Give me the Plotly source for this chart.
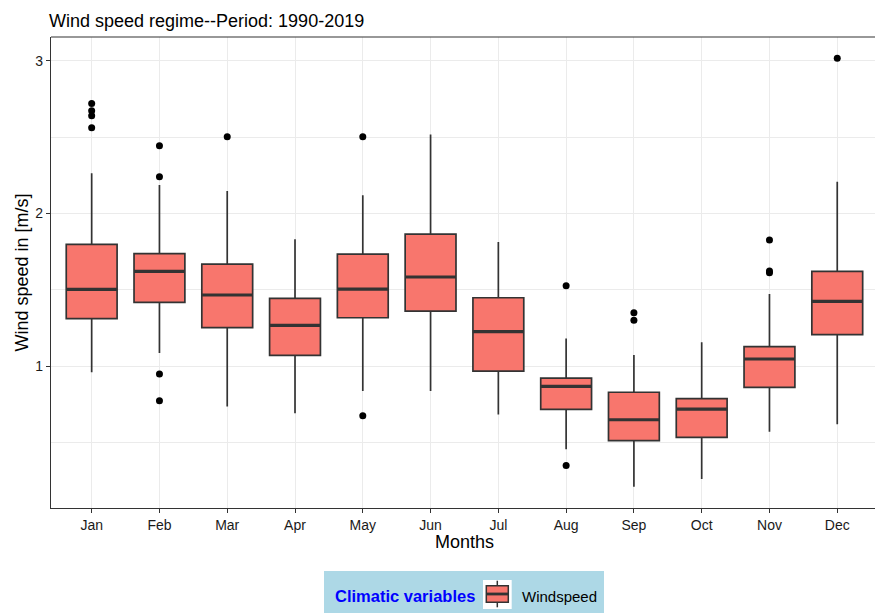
import plotly.graph_objects as go

# ---------------- data ----------------
months = ["Jan", "Feb", "Mar", "Apr", "May", "Jun",
          "Jul", "Aug", "Sep", "Oct", "Nov", "Dec"]
lower_whisker = [0.959, 1.085, 0.734, 0.690, 0.836, 0.836, 0.683, 0.454, 0.210, 0.260, 0.570, 0.618]
q1 = [1.310, 1.417, 1.251, 1.070, 1.316, 1.360, 0.967, 0.716, 0.511, 0.533, 0.860, 1.205]
median = [1.502, 1.620, 1.465, 1.266, 1.504, 1.583, 1.225, 0.867, 0.648, 0.718, 1.046, 1.424]
q3 = [1.797, 1.736, 1.668, 1.443, 1.733, 1.864, 1.447, 0.921, 0.828, 0.786, 1.127, 1.620]
upper_whisker = [2.262, 2.185, 2.146, 1.830, 2.118, 2.517, 1.812, 1.181, 1.072, 1.155, 1.472, 2.207]
outlier_month = ["Jan", "Jan", "Jan", "Jan", "Feb", "Feb", "Feb", "Feb", "Mar", "May", "May",
                 "Aug", "Aug", "Sep", "Sep", "Nov", "Nov", "Nov", "Dec"]
outlier_value = [2.720, 2.672, 2.639, 2.561, 2.443, 2.240, 0.948, 0.773, 2.502, 2.502, 0.675,
                 1.526, 0.349, 1.349, 1.299, 1.825, 1.622, 1.611, 3.015]
y_ticks = [1, 2, 3]
y_minor = [0.5, 1.5, 2.5]

# ---------------- styling ----------------
FILL = "#F8766D"
EDGE = "#333333"
GRID = "#EBEBEB"
FONT = "Liberation Sans, Arial, sans-serif"
TXT = "#1a1a1a"
BOX_W = 0.75

W, H = 875, 613
L, T, R = 51, 37, 0
PB = 508                     # plot bottom in pixels
B = H - PB
PW, PH = W - L - R, PB - T


def px(X):
    """window pixel x -> paper x"""
    return (X - L) / PW


def py(Y):
    """window pixel y -> paper y"""
    return (PB - Y) / PH


xi = list(range(len(months)))
pos = {m: i for i, m in enumerate(months)}

fig = go.Figure()

fig.add_trace(go.Box(
    x=xi, q1=q1, median=median, q3=q3,
    lowerfence=lower_whisker, upperfence=upper_whisker,
    width=BOX_W, whiskerwidth=0, boxpoints=False,
    fillcolor=FILL, line=dict(color=EDGE, width=1.7),
    name="Windspeed", showlegend=False,
))

# thicker median bars (ggplot style)
mx, my = [], []
for i, m in zip(xi, median):
    mx += [i - BOX_W / 2, i + BOX_W / 2, None]
    my += [m, m, None]
fig.add_trace(go.Scatter(x=mx, y=my, mode="lines",
                         line=dict(color=EDGE, width=3.2),
                         showlegend=False, hoverinfo="skip"))

# outliers
fig.add_trace(go.Scatter(
    x=[pos[m] for m in outlier_month], y=outlier_value, mode="markers",
    marker=dict(color="black", size=7), showlegend=False,
))

shapes = [
    # top panel border
    dict(type="line", xref="paper", yref="paper", x0=0, x1=1, y0=1, y1=1,
         line=dict(color=EDGE, width=1.2)),
    # legend background
    dict(type="rect", xref="paper", yref="paper",
         x0=px(324), x1=px(604), y0=py(571), y1=py(640),
         fillcolor="#ADD8E6", line=dict(width=0)),
    # legend key background
    dict(type="rect", xref="paper", yref="paper",
         x0=px(483), x1=px(511.7), y0=py(580), y1=py(609),
         fillcolor="white", line=dict(width=0)),
    # legend key whiskers
    dict(type="line", xref="paper", yref="paper",
         x0=px(497.3), x1=px(497.3), y0=py(580.7), y1=py(607.3),
         line=dict(color=EDGE, width=1.5)),
    # legend key box
    dict(type="rect", xref="paper", yref="paper",
         x0=px(486.3), x1=px(508.3), y0=py(585.7), y1=py(602.3),
         fillcolor=FILL, line=dict(color=EDGE, width=1.5)),
    # legend key median
    dict(type="line", xref="paper", yref="paper",
         x0=px(486.3), x1=px(508.3), y0=py(594), y1=py(594),
         line=dict(color=EDGE, width=2.8)),
]

annotations = [
    dict(text="Months", xref="x", yref="paper", x=5.5, y=py(542),
         xanchor="center", yanchor="middle", showarrow=False,
         font=dict(family=FONT, size=18, color="black")),
    dict(text="Wind speed in [m/s]", xref="paper", yref="paper", x=px(21), y=0.5,
         xanchor="center", yanchor="middle", textangle=-90, showarrow=False,
         font=dict(family=FONT, size=18, color="black")),
    dict(text="<b>Climatic variables</b>", xref="paper", yref="paper",
         x=px(333), y=py(596), xanchor="left", yanchor="middle", showarrow=False,
         font=dict(family=FONT, size=16.5, color="blue")),
    dict(text="Windspeed", xref="paper", yref="paper",
         x=px(519.5), y=py(596.5), xanchor="left", yanchor="middle", showarrow=False,
         font=dict(family=FONT, size=15, color="black")),
]

fig.update_layout(
    width=W, height=H, autosize=False,
    margin=dict(l=L, r=R, t=T, b=B, pad=0),
    paper_bgcolor="white", plot_bgcolor="white",
    title=dict(text="Wind speed regime--Period: 1990-2019",
               xref="container", x=49 / W, xanchor="left",
               yref="container", y=1 - 20.5 / H, yanchor="middle",
               font=dict(family=FONT, size=18, color="black")),
    shapes=shapes, annotations=annotations,
    showlegend=False,
)

fig.update_xaxes(
    range=[-0.6, -0.6 + PW / 67.78],
    tickmode="array", tickvals=xi, ticktext=months,
    ticks="outside", ticklen=4, tickwidth=1.1, tickcolor=EDGE,
    showgrid=True, gridcolor=GRID, gridwidth=1.1, zeroline=False,
    showline=True, linecolor=EDGE, linewidth=1.2,
    tickfont=dict(family=FONT, size=14, color=TXT),
)
fig.update_yaxes(
    range=[0.07, 3.155],
    tickmode="array", tickvals=y_ticks,
    ticks="outside", ticklen=4, tickwidth=1.1, tickcolor=EDGE,
    showgrid=True, gridcolor=GRID, gridwidth=1.1, zeroline=False,
    showline=True, linecolor=EDGE, linewidth=1.2,
    tickfont=dict(family=FONT, size=14, color=TXT),
    minor=dict(tickmode="array", tickvals=y_minor, showgrid=True,
               gridcolor=GRID, gridwidth=0.6, ticks=""),
)

# remove the page's default body margin so the figure fills the window exactly
fig.write_html(
    "out.html",
    config={"displayModeBar": False},
    post_script="document.body.style.margin='0';document.body.style.overflow='hidden';",
)
